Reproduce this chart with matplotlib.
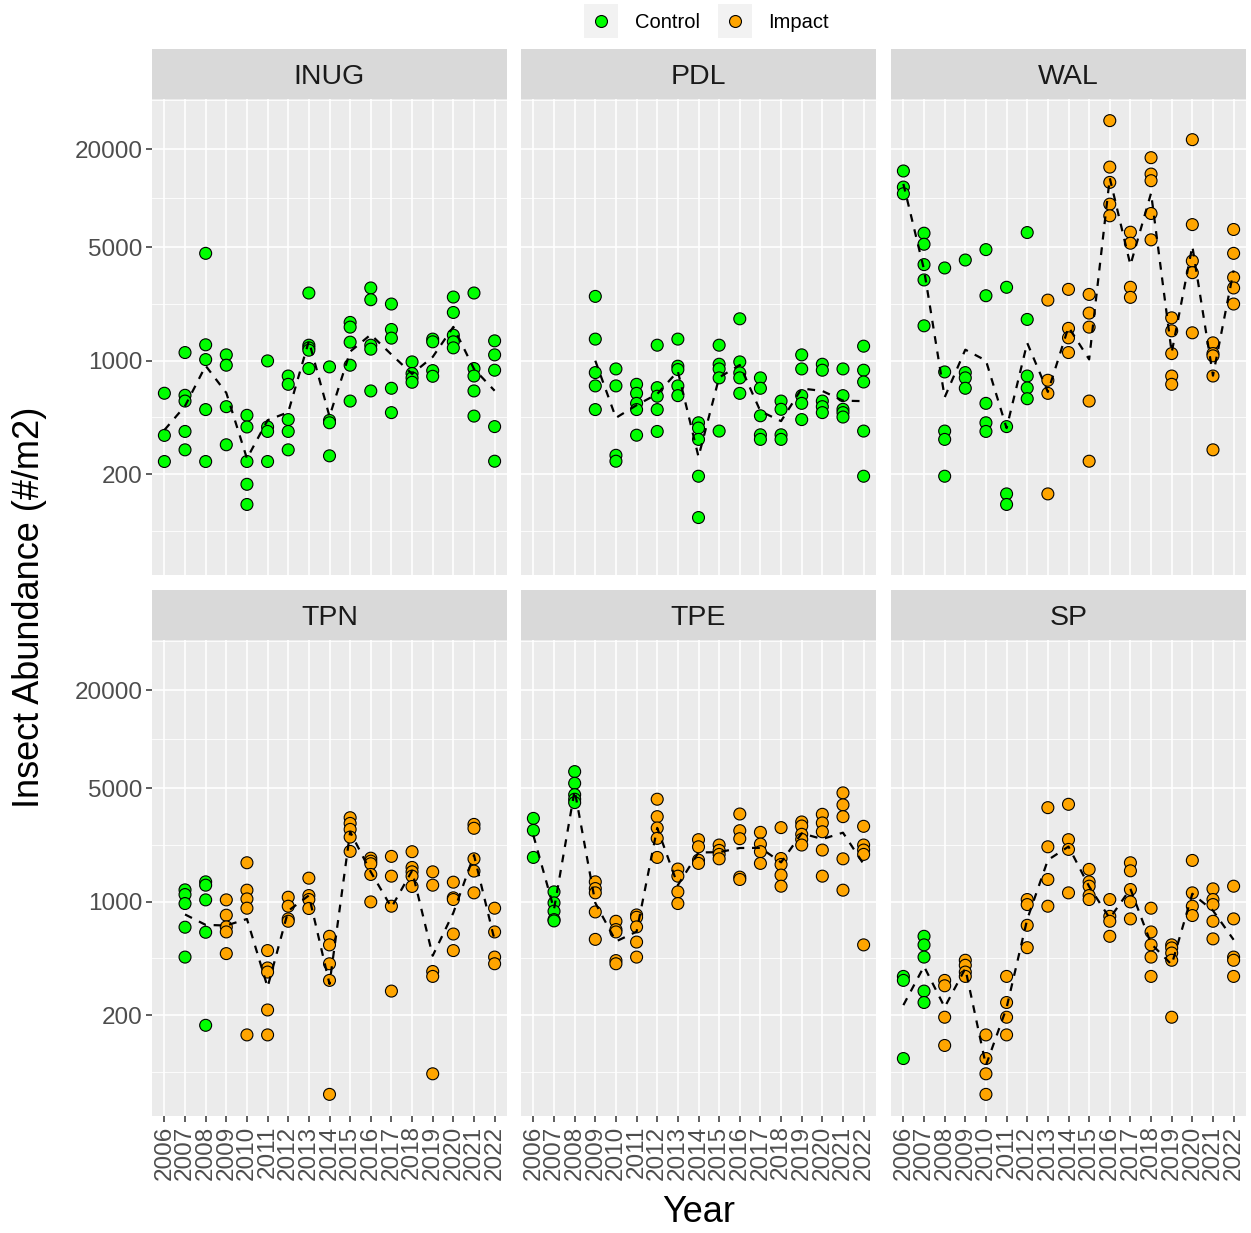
import matplotlib
matplotlib.use("Agg")
import matplotlib.pyplot as plt
import numpy as np
from matplotlib.lines import Line2D
from matplotlib.patches import Rectangle

plt.rcParams['font.family'] = ['Liberation Sans', 'DejaVu Sans']

# data (values per year, 2006..2022; empty list = no sample)
years = list(range(2006, 2023))
sites = ["INUG", "PDL", "WAL", "TPN", "TPE", "SP"]
# first year each site is "Impact" (None = always control)
impact_from = {"INUG": None, "PDL": None, "WAL": 2013, "TPN": 2009, "TPE": 2009, "SP": 2008}

inug = [[629, 346, 239], [1120, 611, 563, 366, 282], [4570, 1250, 1014, 499, 239],
        [1084, 936, 520, 303], [460, 390, 239, 173, 130], [995, 390, 366, 239],
        [803, 714, 433, 366, 282], [2605, 1243, 1197, 1158, 893], [914, 428, 414, 259],
        [1717, 1606, 1298, 936, 563], [2798, 2368, 1243, 1175, 650], [2228, 1553, 1374, 675, 478],
        [981, 832, 782, 735], [1355, 1304, 867, 800], [2460, 1977, 1433, 1304, 1197],
        [2605, 893, 803, 650, 455], [1322, 1084, 872, 392, 240]]
pdl = [[], [], [], [2483, 1355, 843, 698, 499], [888, 698, 261, 240],
       [714, 628, 545, 499, 347], [1243, 681, 603, 499, 366], [1355, 923, 880, 698, 608],
       [414, 384, 327, 194, 108], [1243, 949, 888, 782, 368], [1807, 981, 840, 782, 628],
       [782, 675, 457, 349, 327], [563, 501, 349, 327], [1084, 888, 608, 545, 433],
       [949, 872, 563, 520, 478], [888, 608, 501, 478, 449], [1226, 872, 738, 368, 194]]
wal = [[14690, 11690, 10640], [6080, 5200, 3896, 3135, 1636], [3715, 851, 368, 327, 194],
       [4158, 843, 782, 675], [4819, 2506, 545, 414, 366], [2825, 392, 151, 130],
       [6138, 1791, 803, 678, 582], [2355, 756, 628, 151], [2743, 1578, 1380, 1120],
       [2553, 1959, 1606, 563, 240], [29990, 15520, 12500, 9180, 7780], [6166, 5276, 2825, 2449],
       [17740, 14060, 12800, 8040, 5535], [1832, 1524, 1104, 803, 714],
       [22900, 6870, 4103, 3475, 1482], [1285, 1104, 1069, 803, 282], [6410, 4570, 3250, 2798, 2228]]
tpn = [[], [1180, 1104, 972, 695, 455], [1322, 1261, 1024, 647, 173], [1024, 824, 698, 650, 478],
       [1733, 1175, 1038, 910, 151], [499, 390, 368, 215, 151], [1063, 936, 782, 756],
       [1393, 1089, 1029, 906], [611, 541, 414, 327, 65], [3281, 3027, 2781, 2494, 2036],
       [1849, 1773, 1709, 1468, 995], [1897, 1433, 936, 281], [2027, 1622, 1524, 1433, 1238],
       [1524, 1261, 371, 346, 87], [1316, 1054, 1029, 631, 499], [2985, 2825, 1832, 1540, 1131],
       [910, 650, 455, 414]]
tpe = [[3250, 2743, 1869], [1147, 981, 872, 774, 760], [6310, 5350, 4550, 4265, 4065],
       [1322, 1202, 1131, 863, 585], [756, 672, 650, 433, 414], [827, 800, 698, 563, 455],
       [4265, 3331, 2838, 2449, 1869], [1585, 1433, 1147, 972], [2404, 2173, 1799, 1717],
       [2228, 2065, 1951, 1832], [3459, 2731, 2437, 1413, 1367], [2667, 2259, 2027, 1717],
       [2852, 1841, 1691, 1455, 1243], [3090, 2917, 2594, 2415, 2228],
       [3444, 3048, 2690, 2075, 1433], [4667, 3937, 3331, 1832, 1175], [2905, 2228, 2075, 1951, 541]]
sp = [[346, 327, 108], [611, 541, 455, 281, 239], [327, 303, 194, 130], [435, 405, 368, 346],
      [151, 108, 87, 65], [346, 239, 194, 151], [1029, 958, 714, 520], [3785, 2173, 1367, 936],
      [3969, 2404, 2094, 1131], [1578, 1322, 1243, 1089, 1029], [1029, 811, 756, 611],
      [1733, 1546, 1186, 995, 782], [910, 650, 541, 455, 346], [541, 518, 482, 435, 194],
      [1791, 1131, 936, 820], [1197, 1029, 958, 756, 589], [1243, 782, 455, 435, 346]]
site_data = {"INUG": inug, "PDL": pdl, "WAL": wal, "TPN": tpn, "TPE": tpe, "SP": sp}

y_breaks = [200, 1000, 5000, 20000]
y_minor = [89.4, 447, 2236, 10000, 40000]
col_control = "#00FF00"
col_impact = "#FFA500"

# figure layout in pixels
W, H = 1251, 1233
fig = plt.figure(figsize=(W / 100, H / 100), dpi=100)


def box(x0, y0, w, h):
    return [x0 / W, 1 - (y0 + h) / H, w / W, h / H]


col_x = [152, 521, 891]
row_y = [49, 590]
pw, ph, sh = 355, 476, 50

allv = np.log10([v for s in sites for yv in site_data[s] for v in yv])
lo, hi = allv.min(), allv.max()
pad = 0.05 * (hi - lo)
ylim = (10 ** (lo - pad), 10 ** (hi + pad))

for i, site in enumerate(sites):
    r, c = divmod(i, 3)
    ax = fig.add_axes(box(col_x[c], row_y[r] + sh, pw, ph))
    ax.set_facecolor("#EBEBEB")
    for sp_ in ax.spines.values():
        sp_.set_visible(False)
    ax.set_yscale("log")
    ax.set_ylim(*ylim)
    ax.set_xlim(-0.6, len(years) - 0.4)

    ax.set_yticks(y_breaks)
    ax.set_yticks(y_minor, minor=True)
    ax.set_xticks(range(len(years)))
    ax.grid(True, which="major", color="white", lw=1.2)
    ax.grid(True, which="minor", axis="y", color="white", lw=0.6)
    ax.set_axisbelow(True)
    ax.tick_params(which="minor", length=0, labelleft=False)
    ax.tick_params(which="major", color="#333333", width=1.1, length=4.3,
                   labelcolor="#4D4D4D", labelsize=17.5, pad=2.5)
    if c == 0:
        ax.set_yticklabels([str(b) for b in y_breaks])
    else:
        ax.tick_params(axis="y", which="major", length=0, labelleft=False)
    if r == 1:
        ax.set_xticklabels([str(y) for y in years], rotation=90, va="top", ha="center")
    else:
        ax.tick_params(axis="x", length=0, labelbottom=False)

    vals = site_data[site]
    start = impact_from[site]
    xs, ys, cols = [], [], []
    mx, my = [], []
    for k, yv in enumerate(vals):
        if not yv:
            continue
        grp_col = col_impact if (start is not None and years[k] >= start) else col_control
        for v in yv:
            xs.append(k)
            ys.append(v)
            cols.append(grp_col)
        mx.append(k)
        my.append(10 ** np.mean(np.log10(yv)))
    ax.scatter(xs, ys, s=74, c=cols, edgecolors="black", linewidths=0.8, zorder=3)
    ax.plot(mx, my, color="black", lw=1.6, linestyle=(0, (3.5, 3.5)), zorder=4)

    st = fig.add_axes(box(col_x[c], row_y[r], pw, sh))
    st.set_facecolor("#D9D9D9")
    st.set_xticks([])
    st.set_yticks([])
    for sp_ in st.spines.values():
        sp_.set_visible(False)
    st.text(0.5, 0.44, site, ha="center", va="center", fontsize=20.5, color="#1A1A1A",
            transform=st.transAxes)

# axis titles
fig.text(699 / W, 1 - 1212 / H, "Year", ha="center", va="center", fontsize=26)
fig.text(30 / W, 1 - 607 / H, "Insect Abundance (#/m2)", ha="center", va="center",
         rotation=90, fontsize=26)

# legend
for cx, tx, col, lab in [(601, 635, col_control, "Control"), (735, 768, col_impact, "Impact")]:
    fig.patches.append(Rectangle(((cx - 17) / W, 1 - 38 / H), 34 / W, 34 / H,
                                 transform=fig.transFigure, facecolor="#F2F2F2",
                                 edgecolor="none"))
    fig.add_artist(Line2D([cx / W], [1 - 21 / H], marker="o", markersize=8.6,
                          markerfacecolor=col, markeredgecolor="black",
                          markeredgewidth=0.8, linestyle="none",
                          transform=fig.transFigure))
    fig.text(tx / W, 1 - 22 / H, lab, ha="left", va="center", fontsize=14.5)

fig.savefig("out.png", dpi=100, facecolor="white")
